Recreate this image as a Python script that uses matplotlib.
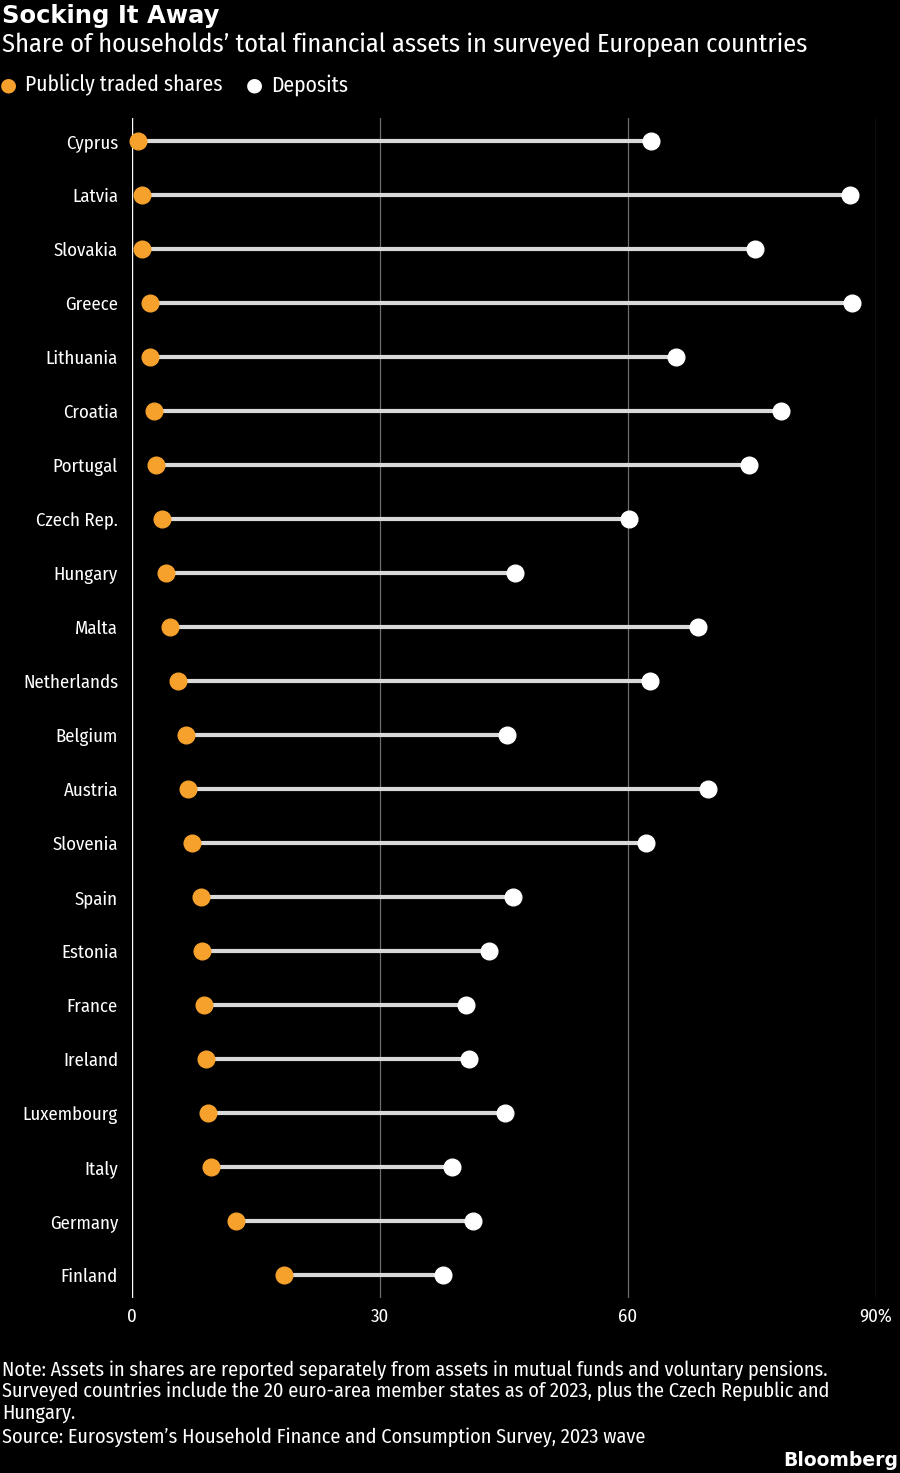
import matplotlib
matplotlib.use("Agg")
import matplotlib.pyplot as plt

FONTS = ["Fira Sans Condensed", "Roboto Condensed", "Archivo Narrow", "DejaVu Sans"]
plt.rcParams["font.family"] = FONTS

countries = ["Cyprus", "Latvia", "Slovakia", "Greece", "Lithuania", "Croatia",
             "Portugal", "Czech Rep.", "Hungary", "Malta", "Netherlands",
             "Belgium", "Austria", "Slovenia", "Spain", "Estonia", "France",
             "Ireland", "Luxembourg", "Italy", "Germany", "Finland"]
shares = [0.7, 1.2, 1.2, 2.2, 2.2, 2.7, 2.9, 3.6, 4.1, 4.6, 5.6,
          6.5, 6.8, 7.3, 8.3, 8.5, 8.7, 9.0, 9.2, 9.6, 12.6, 18.4]
deposits = [62.8, 86.9, 75.4, 87.1, 65.8, 78.5, 74.6, 60.1, 46.3, 68.5, 62.7,
            45.4, 69.7, 62.2, 46.1, 43.2, 40.4, 40.8, 45.1, 38.7, 41.2, 37.6]
xticks = [0, 30, 60, 90]
xticklabels = ["0", "30", "60", "90%"]

ORANGE = "#f7a12d"
BG = "black"

fig = plt.figure(figsize=(9, 14.73), dpi=100, facecolor=BG)
ax = fig.add_axes([132 / 900, 175 / 1473, 744 / 900, 1180 / 1473])
ax.set_facecolor(BG)

ys = list(range(len(countries)))
ax.set_xlim(0, 90)
ax.set_ylim(len(countries) - 1 + 23 / 54, -23 / 54)

# gridlines
for t in xticks[1:]:
    ax.axvline(t, color="#6b6b6b", lw=0.9, zorder=0)
ax.axvline(0, color="white", lw=1.0, zorder=1)

ax.hlines(ys, shares, deposits, color="#d9d9d9", lw=3, zorder=2)
ax.plot(deposits, ys, "o", color="white", ms=12, mec="white", zorder=3, clip_on=False)
ax.plot(shares, ys, "o", color=ORANGE, ms=12, mec=ORANGE, zorder=4, clip_on=False)

ax.set_yticks(ys)
ax.set_yticklabels(countries, color="white", fontsize=13.5)
ax.set_xticks(xticks)
ax.set_xticklabels(xticklabels, color="white", fontsize=13.5)
ax.tick_params(axis="both", length=0)
ax.tick_params(axis="y", pad=10)
ax.tick_params(axis="x", pad=7)
for s in ax.spines.values():
    s.set_visible(False)

# titles
fig.text(0.002, 1 - 16 / 1473, "Socking It Away", color="white", fontsize=17.5,
         fontweight="bold", va="center", ha="left", family=["DejaVu Sans"])
fig.text(0.002, 1 - 45 / 1473,
         "Share of households\u2019 total financial assets in surveyed European countries",
         color="white", fontsize=19, va="center", ha="left")

# legend
fig.text(8 / 900, 1 - 85 / 1473, "\u25cf", color=ORANGE, fontsize=14,
         fontweight="normal", va="center", ha="center", family=["DejaVu Sans"])
fig.text(25 / 900, 1 - 85 / 1473, "Publicly traded shares", color="white",
         fontsize=15.5, va="center", ha="left")
fig.text(254 / 900, 1 - 85 / 1473, "\u25cf", color="white", fontsize=14,
         fontweight="normal", va="center", ha="center", family=["DejaVu Sans"])
fig.text(271 / 900, 1 - 85 / 1473, "Deposits", color="white",
         fontsize=15.5, va="center", ha="left")

# notes
notes = ("Note: Assets in shares are reported separately from assets in mutual funds and voluntary pensions.\n"
         "Surveyed countries include the 20 euro-area member states as of 2023, plus the Czech Republic and\n"
         "Hungary.")
fig.text(0.002, 1 - 1360 / 1473, notes, color="white", fontsize=14.6,
         va="top", ha="left", linespacing=1.12)
fig.text(0.002, 1 - 1437 / 1473,
         "Source: Eurosystem\u2019s Household Finance and Consumption Survey, 2023 wave",
         color="white", fontsize=14.6, va="center", ha="left")
fig.text(0.998, 1 - 1461 / 1473, "Bloomberg", color="white", fontsize=13.5,
         fontweight="bold", va="center", ha="right", family=["DejaVu Sans"])

fig.savefig("out.png", dpi=100, facecolor=BG)
